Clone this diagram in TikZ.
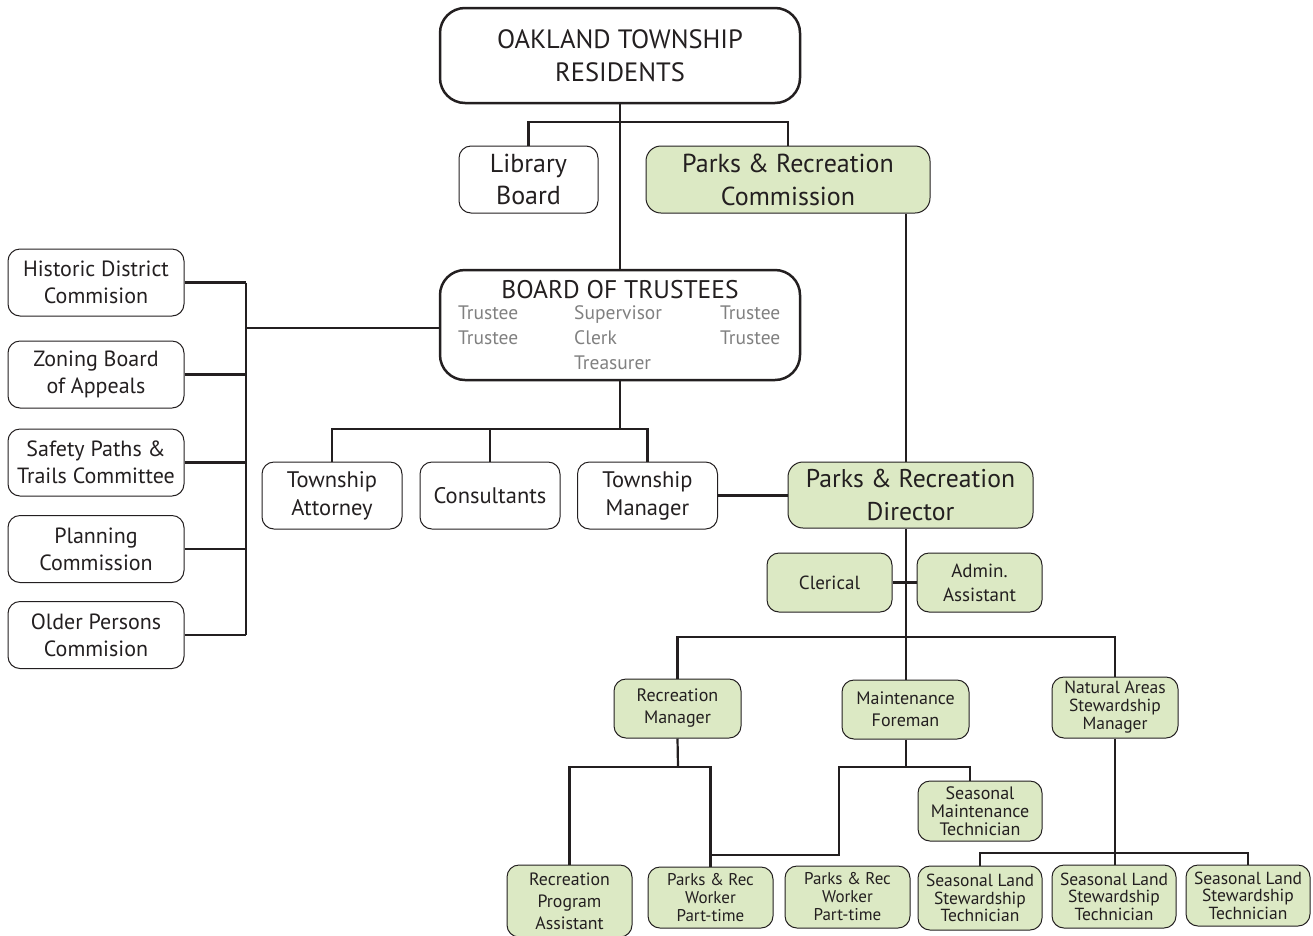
\documentclass[tikz,border=0pt]{standalone}
\usepackage{fontspec}
\setmainfont{PT Sans}
\definecolor{pgreen}{RGB}{220,233,196}
\definecolor{tgrey}{RGB}{128,128,128}
\definecolor{ink}{RGB}{35,31,32}
\newcommand{\fsz}[2]{\fontsize{#1}{#2}\selectfont}
\begin{document}
\begin{tikzpicture}[x=1pt,y=-1pt,
  box/.style={draw=ink, line width=1pt, rounded corners=12pt, align=center, inner sep=0pt, text=ink},
  bigbox/.style={box, line width=2.5pt, rounded corners=25pt},
  gbox/.style={box, fill=pgreen},
  wire/.style={draw=ink, line width=2.2pt},
  lbl/.style={inner sep=0pt, align=left},
]
\useasboundingbox (0,0) rectangle (1313,935);

% top
\node[bigbox, minimum width=360pt, minimum height=95pt, font=\fsz{26.5}{33}] (res) at (620,55.5) {OAKLAND TOWNSHIP\\RESIDENTS};
\node[box, minimum width=139pt, minimum height=67pt, font=\fsz{26}{32}] (lib) at (528.5,179.5) {Library\\Board};
\node[gbox, rounded corners=15pt, minimum width=284pt, minimum height=67pt, font=\fsz{26}{33}] (prc) at (788,179.5) {Parks \& Recreation\\Commission};

% board of trustees
\node[bigbox, minimum width=360pt, minimum height=110pt] (bot) at (620,325) {};
\node[lbl, font=\fsz{25.5}{26}, text=ink] (bott) at (620,290) {BOARD OF TRUSTEES};
\node[lbl, anchor=west, font=\fsz{19.5}{25}, text=tgrey] (btl) at (458,325.5) {Trustee\\Trustee};
\node[lbl, anchor=west, font=\fsz{19.5}{25}, text=tgrey] (btm) at (574,338) {Supervisor\\Clerk\\Treasurer};
\node[lbl, anchor=west, font=\fsz{19.5}{25}, text=tgrey] (btr) at (720,325.5) {Trustee\\Trustee};

% left committees
\tikzset{cbox/.style={box, minimum width=176pt, minimum height=67pt, font=\fsz{22}{27}}}
\node[cbox] (hdc) at (96,282.5) {Historic District\\Commision};
\node[cbox] (zba) at (96,374.5) {Zoning Board\\of Appeals};
\node[cbox] (spt) at (96,462.5) {Safety Paths \&\\Trails Committee};
\node[cbox] (pc) at (96,549) {Planning\\Commission};
\node[cbox] (opc) at (96,635) {Older Persons\\Commision};

% township row
\tikzset{tbox/.style={box, minimum width=140pt, minimum height=67pt, font=\fsz{22.5}{28}}}
\node[tbox] (att) at (332,495.5) {Township\\Attorney};
\node[tbox] (con) at (490,495.5) {Consultants};
\node[tbox] (mgr) at (647.5,495.5) {Township\\Manager};

% parks
\node[gbox, rounded corners=15pt, minimum width=245pt, minimum height=66pt, font=\fsz{25.7}{33}] (dir) at (910.5,495) {Parks \& Recreation\\Director};
\node[gbox, minimum width=125pt, minimum height=59pt, font=\fsz{19}{24}] (cle) at (829.5,582.5) {Clerical};
\node[gbox, minimum width=125pt, minimum height=59pt, font=\fsz{19}{24}] (adm) at (979.5,582.5) {Admin.\\Assistant};

\node[gbox, minimum width=127pt, minimum height=59pt, font=\fsz{18}{22}] (rm) at (677.5,708.5) {Recreation\\Manager};
\node[gbox, minimum width=127pt, minimum height=59pt, font=\fsz{18}{22}] (mf) at (905.5,709.5) {Maintenance\\Foreman};
\node[gbox, minimum width=126pt, minimum height=61pt, font=\fsz{17.5}{18}] (nas) at (1115,707.5) {Natural Areas\\Stewardship\\Manager};

\node[gbox, minimum width=124pt, minimum height=60pt, font=\fsz{18}{18}] (smt) at (980,811) {Seasonal\\Maintenance\\Technician};

\node[gbox, minimum width=125pt, minimum height=72pt, font=\fsz{17.8}{22}] (rpa) at (569.5,901) {Recreation\\Program\\Assistant};
\node[gbox, minimum width=125pt, minimum height=61pt, font=\fsz{17}{18}] (w1) at (710.5,897.5) {Parks \& Rec\\Worker\\Part-time};
\node[gbox, minimum width=125pt, minimum height=62pt, font=\fsz{17}{18}] (w2) at (847.5,897) {Parks \& Rec\\Worker\\Part-time};
\node[gbox, minimum width=124pt, minimum height=64pt, font=\fsz{17.5}{17.5}] (st1) at (980,898) {Seasonal Land\\Stewardship\\Technician};
\node[gbox, minimum width=124pt, minimum height=63pt, font=\fsz{17.5}{17.5}] (st2) at (1114,896.5) {Seasonal Land\\Stewardship\\Technician};
\node[gbox, minimum width=124pt, minimum height=61pt, font=\fsz{17.5}{17.5}] (st3) at (1248,895.5) {Seasonal Land\\Stewardship\\Technician};

% junction coordinates
\coordinate (j1) at (620,122);
\coordinate (sp) at (906,0);
\coordinate (lb) at (246,328);
\coordinate (j2) at (620,429);
\coordinate (j3) at (906,637);
\coordinate (j4) at (678,767);
\coordinate (j5) at (906,767);
\coordinate (j6) at (839,855);
\coordinate (j7) at (1115,853);

% connectors
\draw[wire] (res.south) -- (bot.north);
\draw[wire] (lib.north) |- (j1) -| (prc.north);
\draw[wire] (sp |- prc.south) -- (sp |- dir.north);

\draw[wire] (bot.west |- lb) -- (lb);
\draw[wire] (hdc.east -| lb) -- (opc.east -| lb);
\draw[wire] (hdc.east) -- (hdc.east -| lb);
\draw[wire] (zba.east) -- (zba.east -| lb);
\draw[wire] (spt.east) -- (spt.east -| lb);
\draw[wire] (pc.east) -- (pc.east -| lb);
\draw[wire] (opc.east) -- (opc.east -| lb);

\draw[wire] (bot.south) -- (j2);
\draw[wire] (att.north) |- (j2) -| (mgr.north);
\draw[wire] (con.north) -- (con.north |- j2);
\draw[wire] (mgr.east) -- (dir.west |- mgr.east);

\draw[wire] (sp |- dir.south) -- (j3);
\draw[wire] (cle.east) -- (adm.west);
\draw[wire] (rm.north) |- (j3) -| (nas.north);
\draw[wire] (j3) -- (sp |- mf.north);

\draw[wire] (rm.south) -- (j4);
\draw[wire] (rpa.north) |- (j4) -| (w1.north);
\draw[wire] (sp |- mf.south) -- (j5);
\draw[wire] ([xshift=-10pt]smt.north) |- (j5) -| (j6) -- (w1.north |- j6);
\draw[wire] (nas.south) -- (nas.south |- st2.north);
\draw[wire] (st1.north) |- (j7) -| (st3.north);
\end{tikzpicture}
\end{document}
